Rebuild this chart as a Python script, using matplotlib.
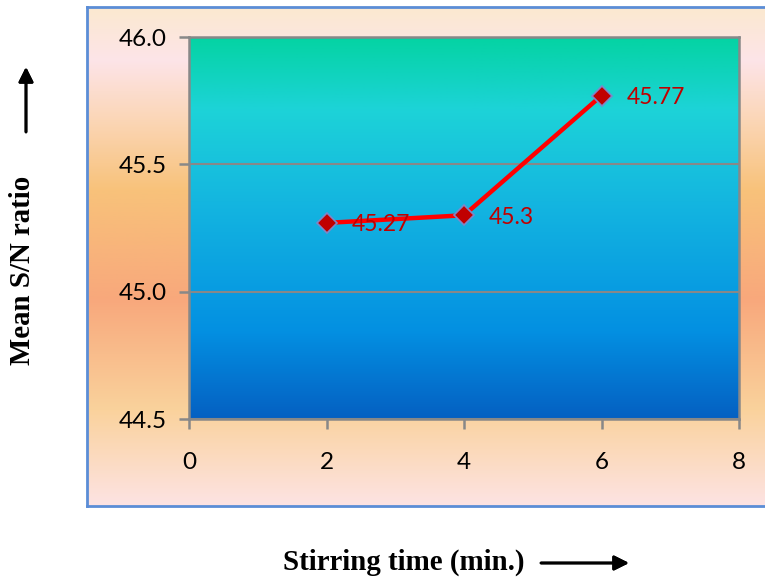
import numpy as np
import matplotlib
matplotlib.use("Agg")
import matplotlib.pyplot as plt
from matplotlib.colors import LinearSegmentedColormap
from matplotlib.ticker import FormatStrFormatter

# data
stirring_time = [2, 4, 6]
sn_ratio = [45.27, 45.3, 45.77]
point_labels = ["45.27", "45.3", "45.77"]
x_ticks = [0, 2, 4, 6, 8]
y_ticks = [44.5, 45.0, 45.5, 46.0]

W, H = 765, 579
fig = plt.figure(figsize=(W / 100, H / 100), dpi=100)
fig.patch.set_facecolor("white")

def px_box(left, top, right, bottom):
    return [left / W, 1 - bottom / H, (right - left) / W, (bottom - top) / H]

# outer chart area with vertical gradient
bg_cmap = LinearSegmentedColormap.from_list("bg", [
    (0.0, "#FBE9D0"), (0.106, "#FDE4E8"), (0.226, "#FBD6B6"),
    (0.367, "#F8C27A"), (0.587, "#F8A87C"), (0.808, "#FAD29C"),
    (1.0, "#FDE3E3")])
bg = fig.add_axes(px_box(87, 7, 766, 506))
bg.imshow(np.linspace(0, 1, 256).reshape(-1, 1), cmap=bg_cmap,
          aspect="auto", extent=[0, 1, 0, 1])
bg.set_xticks([])
bg.set_yticks([])
for side in ["left", "top", "bottom"]:
    bg.spines[side].set_color("#5B8DD6")
    bg.spines[side].set_linewidth(2)
bg.spines["right"].set_visible(False)

# plot area
ax = fig.add_axes(px_box(189, 37, 739, 419))
plot_cmap = LinearSegmentedColormap.from_list("plot", [
    (0.0, "#04D3A3"), (0.19, "#1DD3D8"), (0.43, "#14B6E0"),
    (0.77, "#0390E2"), (1.0, "#0560C2")])
ax.imshow(np.linspace(0, 1, 256).reshape(-1, 1), cmap=plot_cmap,
          aspect="auto", extent=[0, 8, 44.5, 46.0], zorder=0)
ax.set_xlim(0, 8)
ax.set_ylim(44.5, 46.0)
ax.set_xticks(x_ticks)
ax.set_yticks(y_ticks)
ax.yaxis.set_major_formatter(FormatStrFormatter("%.1f"))
ax.grid(axis="y", color="#888888", linewidth=1.5, zorder=1)
for s in ax.spines.values():
    s.set_color("#888888")
    s.set_linewidth(1.8)
ax.tick_params(colors="#888888", width=1.8, length=7, labelcolor="black",
               labelsize=17.5, labelfontfamily="Lato")
ax.tick_params(axis="x", pad=17)
ax.tick_params(axis="y", pad=9)

ax.plot(stirring_time, sn_ratio, color="#FF0000", linewidth=3.2,
        marker="D", markersize=10, markerfacecolor="#C00000",
        markeredgecolor="#7F86C8", markeredgewidth=1.2, zorder=3)
for x, y, t in zip(stirring_time, sn_ratio, point_labels):
    ax.annotate(t, (x, y), xytext=(18, -1.5), textcoords="offset points",
                ha="left", va="center", color="#C00000", fontsize=16.5,
                family="Lato", zorder=4)

# axis titles with arrows
fig.text(23 / W, 1 - 270 / H, "Mean S/N ratio", rotation=90, ha="center",
         va="center", fontsize=20.8, fontweight="bold", family="Liberation Serif")
fig.text(404 / W, 1 - 562 / H, "Stirring time (min.)", ha="center",
         va="center", fontsize=20.8, fontweight="bold", family="Liberation Serif")
arrow = dict(arrowstyle="-|>", color="black", lw=2, mutation_scale=22,
             shrinkA=0, shrinkB=0)
fig.add_artist(plt.annotate("", xy=(26, H - 67), xytext=(26, H - 132),
                            xycoords="figure pixels", arrowprops=arrow))
fig.add_artist(plt.annotate("", xy=(629, H - 563), xytext=(541, H - 563),
                            xycoords="figure pixels", arrowprops=arrow))

fig.savefig("out.png", dpi=100)
